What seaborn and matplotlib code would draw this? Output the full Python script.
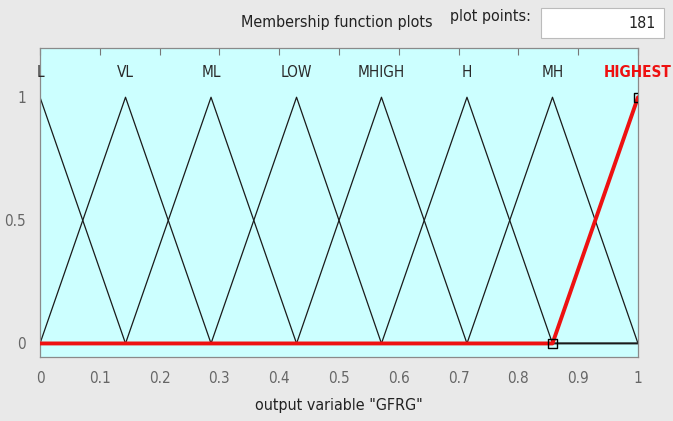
import matplotlib
matplotlib.use("Agg")
import matplotlib.pyplot as plt
import seaborn as sns
import pandas as pd
from matplotlib.patches import Rectangle

sns.set_style("white")
plt.rcParams['font.family'] = ['DejaVu Sans']
plt.rcParams['font.stretch'] = 'condensed'

# Membership functions (triangular): name, left foot, peak, right foot
mf_names = ["L", "VL", "ML", "LOW", "MHIGH", "H", "MH", "HIGHEST"]
mf_left  = [-0.143, 0.0, 0.143, 0.286, 0.429, 0.571, 0.714, 0.857]
mf_peak  = [0.0, 0.143, 0.286, 0.429, 0.571, 0.714, 0.857, 1.0]
mf_right = [0.143, 0.286, 0.429, 0.571, 0.714, 0.857, 1.0, 1.143]
x_range = [0.0, 1.0]
x_ticks = [0, 0.1, 0.2, 0.3, 0.4, 0.5, 0.6, 0.7, 0.8, 0.9, 1]
x_ticklabels = ["0", "0.1", "0.2", "0.3", "0.4", "0.5", "0.6", "0.7", "0.8", "0.9", "1"]
y_ticks = [0, 0.5, 1]
y_ticklabels = ["0", "0.5", "1"]
selected = "HIGHEST"
plot_points = "181"


def tri_vertices(a, b, c, lo, hi):
    # polyline vertices of a triangular MF clipped to [lo, hi]
    def mu(x):
        if x <= a or x >= c:
            return 1.0 if x == b else 0.0
        if x <= b:
            return (x - a) / (b - a)
        return (c - x) / (c - b)
    xs = [lo] + [p for p in (a, b, c) if lo < p < hi] + [hi]
    xs = sorted(set(xs))
    return xs, [mu(v) for v in xs]


fig = plt.figure(figsize=(6.73, 4.21), dpi=100, facecolor="#e9e9e9")
ax = fig.add_axes([40 / 673, 1 - 357 / 421, 598 / 673, 309 / 421])
ax.set_facecolor("#ccffff")

for name, a, b, c in zip(mf_names, mf_left, mf_peak, mf_right):
    if name == selected:
        continue
    xs, ys = tri_vertices(a, b, c, *x_range)
    df = pd.DataFrame({"x": xs, "mu": ys})
    sns.lineplot(data=df, x="x", y="mu", sort=False, estimator=None,
                 color="#1a1a1a", lw=0.9, ax=ax)

i = mf_names.index(selected)
xs, ys = tri_vertices(mf_left[i], mf_peak[i], mf_right[i], *x_range)
df = pd.DataFrame({"x": xs, "mu": ys})
sns.lineplot(data=df, x="x", y="mu", sort=False, estimator=None,
             color="#ee1111", lw=2.8, ax=ax, zorder=5)
# square markers at the MF's defining points inside the range
mk = pd.DataFrame({"x": [mf_left[i], mf_peak[i]], "mu": [0.0, 1.0]})
sns.scatterplot(data=mk, x="x", y="mu", marker="s", s=40, facecolor="none",
                edgecolor="black", linewidth=1.0, ax=ax, zorder=6)

for name, b in zip(mf_names, mf_peak):
    col = "#ee1111" if name == selected else "#2a2a2a"
    ax.text(b, 1.10, name, ha="center", va="center", fontsize=11,
            color=col, fontweight="bold" if name == selected else "normal", clip_on=False)

ax.set_xlim(0, 1)
ax.set_ylim(-0.055, 1.2)
ax.set_xticks(x_ticks)
ax.set_xticklabels(x_ticklabels)
ax.set_yticks(y_ticks)
ax.set_yticklabels(y_ticklabels)
ax.tick_params(axis="both", direction="in", length=5, width=0.8, colors="#777777",
               labelcolor="#666666", labelsize=11, top=True, right=False, pad=10)
for s in ax.spines.values():
    s.set_color("#8a8a8a")
    s.set_linewidth(0.9)
ax.set_xlabel('output variable "GFRG"', fontsize=11.5, color="#222222", labelpad=9)
ax.set_ylabel("")

fig.text(337 / 673, 1 - 22 / 421, "Membership function plots", ha="center", va="center",
         fontsize=11.5, color="#222222")
fig.text(490 / 673, 1 - 17 / 421, "plot points:", ha="center", va="center",
         fontsize=11.5, color="#222222")
fig.patches.append(Rectangle((541 / 673, 1 - 38 / 421), 123 / 673, 30 / 421,
                             transform=fig.transFigure, facecolor="white",
                             edgecolor="#bbbbbb", lw=0.8))
fig.text(656 / 673, 1 - 23 / 421, plot_points, ha="right", va="center",
         fontsize=11.5, color="#222222")

fig.savefig("out.png", dpi=100, facecolor=fig.get_facecolor())
